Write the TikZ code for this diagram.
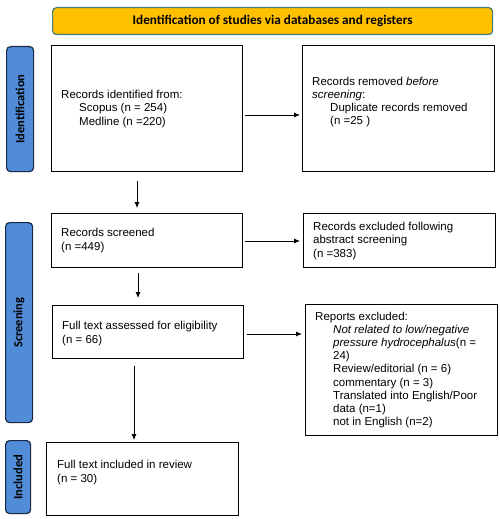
\documentclass[tikz,border=0pt]{standalone}
\usepackage{fontspec}
\setmainfont{Liberation Sans}
\newfontfamily\calib{Carlito}
\usetikzlibrary{arrows.meta}
\definecolor{bannerfill}{RGB}{255,192,0}
\definecolor{bannerdraw}{RGB}{70,125,125}
\definecolor{sidefill}{RGB}{80,140,215}
\definecolor{sidedraw}{RGB}{25,40,70}
\begin{document}
\begin{tikzpicture}[x=1pt,y=-1pt,
 box/.style={draw=black, line width=1.1pt, anchor=north west, inner sep=0pt},
 txt/.style={anchor=west, align=left, inner sep=0pt, font=\fontsize{11.5}{13.2}\selectfont},
 side/.style={draw=sidedraw, fill=sidefill, line width=1.2pt, rounded corners=4pt, anchor=north west, inner sep=0pt},
 sidetxt/.style={rotate=90, inner sep=0pt, font=\calib\bfseries\fontsize{12.5}{14}\selectfont},
 banner/.style={draw=bannerdraw, fill=bannerfill, line width=1.2pt, rounded corners=4pt, anchor=north west, inner sep=0pt},
 arr/.style={-{Latex[length=6pt,width=5pt]}, line width=0.8pt}]
\useasboundingbox (0,0) rectangle (500,519);

% banner
\node[banner, minimum width=440pt, minimum height=27pt] (ban) at (52,7) {};
\node[inner sep=0pt, font=\calib\bfseries\fontsize{13.2}{15}\selectfont] (bantxt) at (ban.center) {Identification of studies via databases and registers};

% side bars
\node[side, minimum width=27pt, minimum height=125pt] (s1) at (6,46) {};
\node[sidetxt] (s1t) at (s1.center) {Identification};
\node[side, minimum width=27pt, minimum height=200pt] (s2) at (5,222) {};
\node[sidetxt] (s2t) at (s2.center) {Screening};
\node[side, minimum width=25pt, minimum height=73pt] (s3) at (5,440) {};
\node[sidetxt] (s3t) at (s3.center) {Included};

% boxes
\node[box, minimum width=191pt, minimum height=126pt] (b1) at (51,45) {};
\node[box, minimum width=192pt, minimum height=126pt] (b2) at (302,45) {};
\node[box, minimum width=191pt, minimum height=54pt] (b3) at (51,213) {};
\node[box, minimum width=192pt, minimum height=54pt] (b4) at (303,213) {};
\node[box, minimum width=191pt, minimum height=53pt] (b5) at (52,305) {};
\node[box, minimum width=192pt, minimum height=131pt] (b6) at (305,304) {};
\node[box, minimum width=192pt, minimum height=73pt] (b7) at (46,442) {};

% texts
\node[txt] (t1) at (61,109) {Records identified from:\\\hspace*{18pt}Scopus (n = 254)\\\hspace*{18pt}Medline (n =220)};
\node[txt] (t2) at (312,102) {Records removed \textit{before}\\\textit{screening}:\\\hspace*{18pt}Duplicate records removed\\\hspace*{18pt}(n =25 )};
\node[txt] (t3) at (61,240.5) {Records screened\\(n =449)};
\node[txt] (t4) at (313,241) {Records excluded following\\abstract screening\\(n =383)};
\node[txt] (t5) at (62,333.5) {Full text assessed for eligibility\\(n = 66)};
\node[txt] (t6) at (315,370) {Reports excluded:\\\hspace*{18pt}\textit{Not related to low/negative}\\\hspace*{18pt}\textit{pressure hydrocephalus}(n =\\\hspace*{18pt}24)\\\hspace*{18pt}Review/editorial (n = 6)\\\hspace*{18pt}commentary (n = 3)\\\hspace*{18pt}Translated into English/Poor\\\hspace*{18pt}data (n=1)\\\hspace*{18pt}not in English (n=2)};
\node[txt] (t7) at (57,472.5) {Full text included in review\\(n = 30)};

% arrows
\draw[arr, shorten <=2pt, shorten >=2pt] (b1.east |- 0,115) -- (b2.west |- 0,115);
\draw[arr, shorten <=2pt, shorten >=3pt] (b3.east |- 0,241) -- (b4.west |- 0,241);
\draw[arr, shorten <=3pt, shorten >=3pt] (b5.east |- 0,334) -- (b6.west |- 0,334);
\draw[arr, shorten <=9pt, shorten >=5pt] (b1.south -| 137,0) -- (b3.north -| 137,0);
\draw[arr, shorten <=5pt, shorten >=7pt] (b3.south -| 138,0) -- (b5.north -| 138,0);
\draw[arr, shorten <=7pt, shorten >=2pt] (b5.south -| 134,0) -- (b7.north -| 134,0);
\end{tikzpicture}
\end{document}
